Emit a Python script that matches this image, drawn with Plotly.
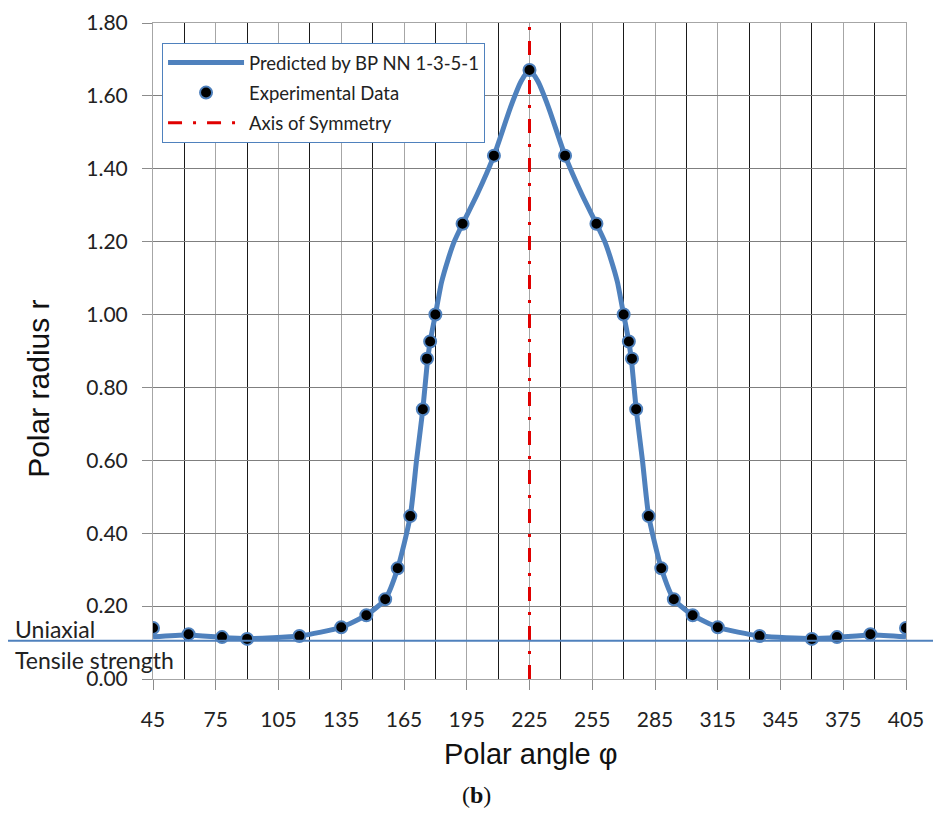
import plotly.graph_objects as go

# ----------------- DATA ----------------- #
exp_angle = [45, 62, 78, 90, 115, 135, 147, 156, 162, 168, 174, 176, 177.5, 180, 193, 208, 225,
             242, 257, 270, 272.5, 274, 276, 282, 288, 294, 303, 315, 335, 360, 372, 388, 405]
exp_radius = [0.140, 0.123, 0.115, 0.110, 0.118, 0.142, 0.175, 0.219, 0.304, 0.447, 0.740, 0.879, 0.926,
              1.000, 1.249, 1.436, 1.671,
              1.436, 1.249, 1.000, 0.926, 0.879, 0.740, 0.447, 0.304, 0.219, 0.175, 0.142, 0.118,
              0.110, 0.115, 0.123, 0.140]

nn_angle = [45, 62, 78, 90, 115, 135, 147, 156, 162, 168, 171, 174, 176, 177.5, 180, 183, 186, 189,
            193, 200, 208, 216, 221, 225, 229, 234, 242, 250, 257, 261, 264, 267, 270, 272.5, 274,
            276, 279, 282, 288, 294, 303, 315, 335, 360, 372, 388, 405]
nn_radius = [0.116, 0.121, 0.114, 0.111, 0.118, 0.142, 0.175, 0.219, 0.304, 0.447, 0.600, 0.740,
             0.860, 0.926, 1.000, 1.090, 1.150, 1.200, 1.249, 1.330, 1.436, 1.570, 1.640, 1.672,
             1.640, 1.570, 1.436, 1.330, 1.249, 1.200, 1.150, 1.090, 1.000, 0.926, 0.860,
             0.740, 0.600, 0.447, 0.304, 0.219, 0.175, 0.142, 0.118, 0.111, 0.114, 0.121, 0.116]

sym_angle = [225, 225]
sym_radius = [0, 1.8]

uniaxial_r = 0.105

x_ticks = [45, 75, 105, 135, 165, 195, 225, 255, 285, 315, 345, 375, 405]
y_ticks = [0, 0.2, 0.4, 0.6, 0.8, 1.0, 1.2, 1.4, 1.6, 1.8]

BLUE = '#4F81BD'
TICK_FONT = dict(family='Lato', size=21, color='#222222')

# ----------------- FIGURE ----------------- #
fig = go.Figure()

fig.add_trace(go.Scatter(x=nn_angle, y=nn_radius, mode='lines', name='Predicted by BP NN 1-3-5-1',
                         line=dict(color=BLUE, width=5, shape='spline', smoothing=0.6),
                         legendrank=1, legendgroup='a'))
fig.add_trace(go.Scatter(x=sym_angle, y=sym_radius, mode='lines', name='Axis of Symmetry',
                         line=dict(color='#E00000', width=3, dash='14px,11px,3px,11px'),
                         legendrank=3, legendgroup='c'))
fig.add_trace(go.Scatter(x=exp_angle, y=exp_radius, mode='markers', name='Experimental Data',
                         marker=dict(color='black', size=12, line=dict(color=BLUE, width=2)),
                         legendrank=2, legendgroup='b'))

# uniaxial tensile strength line, running across the whole picture
fig.add_shape(type='line', xref='paper', yref='y', x0=-0.197, x1=1.05, y0=uniaxial_r, y1=uniaxial_r,
              line=dict(color=BLUE, width=2))

fig.add_annotation(text='Uniaxial', xref='paper', yref='y', x=-0.186, y=0.137,
                   xanchor='left', yanchor='middle', showarrow=False, font=dict(family='Lato', size=23, color='#222'))
fig.add_annotation(text='Tensile strength', xref='paper', yref='y', x=-0.186, y=0.052,
                   xanchor='left', yanchor='middle', showarrow=False, font=dict(family='Lato', size=23, color='#222'))

fig.add_annotation(text='Polar radius r', xref='paper', yref='paper', x=-0.153, y=0.442, textangle=-90,
                   xanchor='center', yanchor='middle', showarrow=False,
                   font=dict(family='Liberation Sans', size=30, color='#111'))
fig.add_annotation(text='Polar angle φ', xref='paper', yref='paper', x=0.502, y=-0.114,
                   xanchor='center', yanchor='middle', showarrow=False,
                   font=dict(family='Liberation Sans', size=29, color='#111'))
fig.add_annotation(text='(<b>b</b>)', xref='paper', yref='paper', x=0.430, y=-0.177,
                   xanchor='center', yanchor='middle', showarrow=False,
                   font=dict(family='Liberation Serif', size=24, color='#111'))

fig.update_xaxes(range=[45, 405], tickvals=x_ticks, ticks='outside', ticklen=10, tickcolor='#8C8C8C',
                 ticklabelstandoff=12, automargin=False,
                 showgrid=True, gridcolor='#A6A6A6', gridwidth=1, zeroline=False,
                 showline=True, mirror=True, linecolor='#A6A6A6', linewidth=1,
                 minor=dict(tick0=60, dtick=30, showgrid=True, gridcolor='#1A1A1A', gridwidth=1.2, ticks=''),
                 tickfont=TICK_FONT)
fig.update_yaxes(range=[0, 1.8], tickvals=y_ticks, tickformat='.2f', ticks='outside', ticklen=10,
                 ticklabelstandoff=10, automargin=False,
                 tickcolor='#8C8C8C', showgrid=True, gridcolor='#7F7F7F', gridwidth=1, zeroline=False,
                 showline=True, mirror=True, linecolor='#A6A6A6', linewidth=1, tickfont=TICK_FONT)

# page body has an 8px margin, so the figure is a little smaller than the window
fig.update_layout(width=933, height=805, margin=dict(l=145, r=35, t=15, b=134),
                  plot_bgcolor='white', paper_bgcolor='white',
                  legend=dict(x=0.012, y=0.9695, xanchor='left', yanchor='top', bgcolor='white',
                              bordercolor=BLUE, borderwidth=1, itemwidth=76, tracegroupgap=3,
                              traceorder='grouped',
                              font=dict(family='Lato', size=18.5, color='#222')),
                  showlegend=True)

fig.write_html("out.html")
